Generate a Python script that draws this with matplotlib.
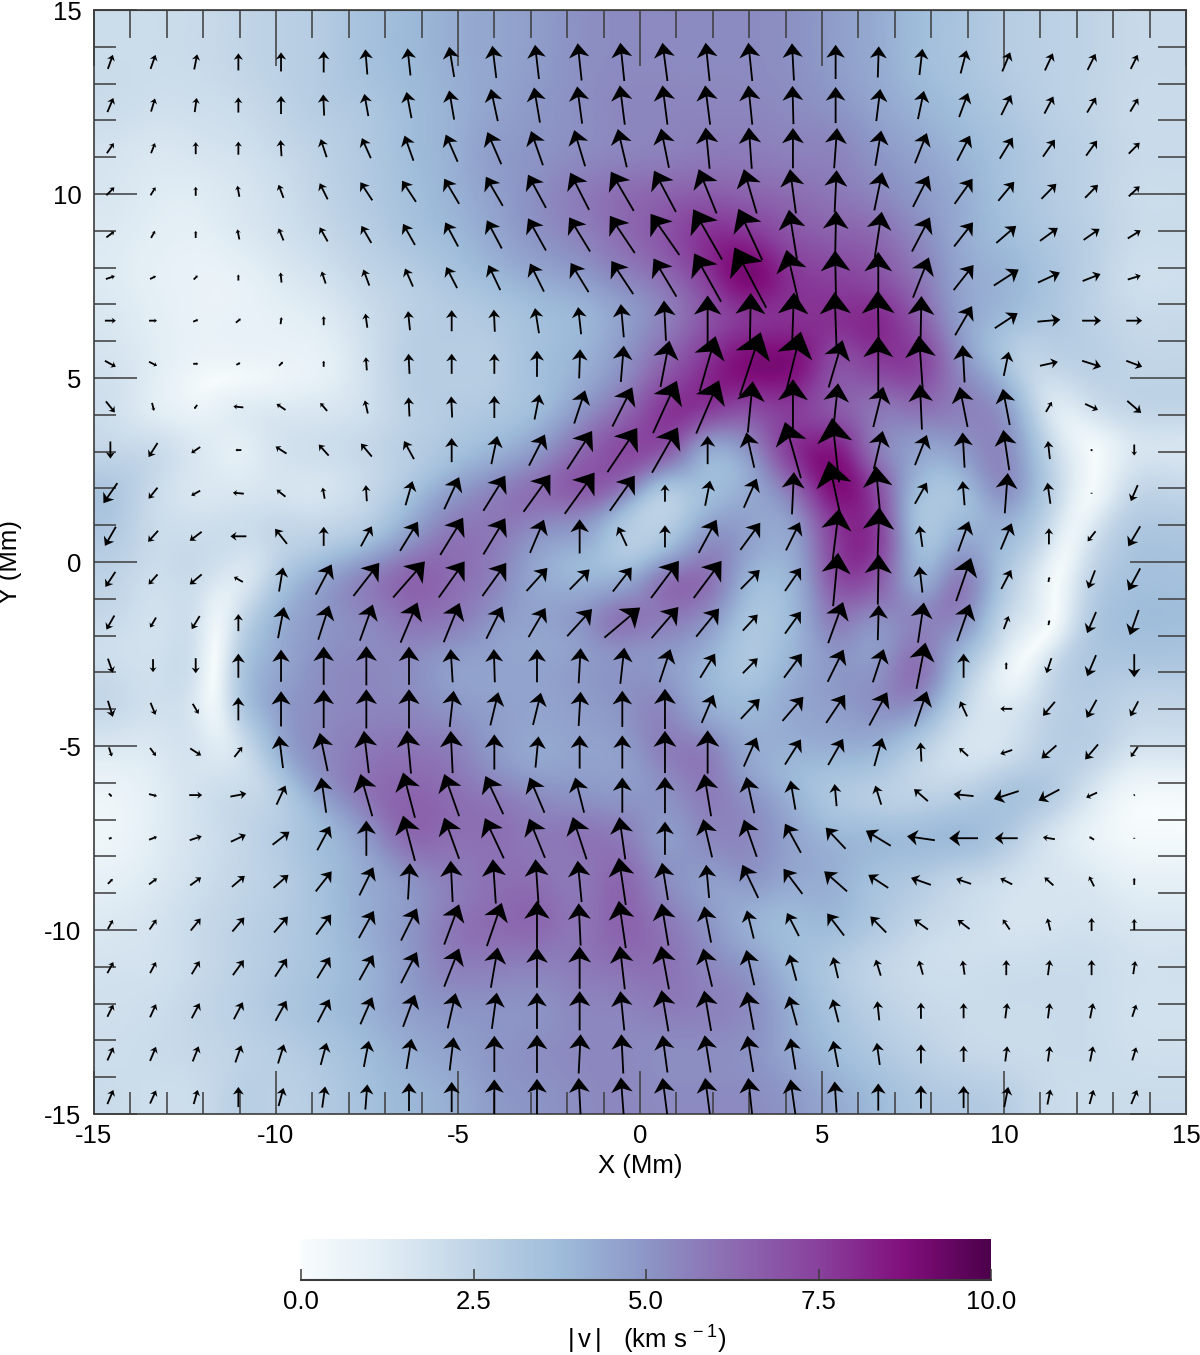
import numpy as np
import matplotlib
matplotlib.use("Agg")
import matplotlib.pyplot as plt
import matplotlib.tri as mtri
from matplotlib.ticker import MultipleLocator, NullFormatter

plt.rcParams["font.family"] = ["Liberation Sans", "DejaVu Sans"]
plt.rcParams["mathtext.default"] = "regular"
plt.rcParams["axes.unicode_minus"] = False

W, H = 1200, 1355
AXIS_COLOR = "#3c3c3c"
FONT_SIZE = 18.5

# grid of the arrows (Mm), rows run from the top of the plot downwards
x_nodes = -14.55 + 1.172 * np.arange(25)
y_nodes = 13.59 - 1.172 * np.arange(25)

# arrow components, in pixels of arrow length
u_read = np.array([
    [5, 5, 3, 0, 0, 0, -2, -3, -5, -4, -4, -4, -4, -5, -4, -4, -2, 0, 1, 3, 6, 8, 8, 8, 7],
    [6, 4, 2, 0, 0, -1, -4, -5, -5, -7, -6, -5, -5, -5, -5, -4, -1, 0, 4, 6, 9, 10, 9, 9, 8],
    [7, 4, 0, 0, -1, -6, -9, -9, -12, -14, -12, -11, -9, -8, -4, -3, 0, 3, 6, 12, 13, 13, 12, 11, 11],
    [8, 5, 0, -2, -5, -8, -12, -14, -15, -17, -18, -19, -23, -22, -18, -13, -6, 2, 8, 16, 18, 16, 15, 13, 11],
    [8, 4, 0, -2, -5, -8, -10, -12, -13, -15, -18, -21, -25, -29, -29, -24, -8, 1, 7, 18, 19, 20, 18, 16, 13],
    [9, 6, 4, 0, -1, -4, -6, -8, -11, -12, -14, -18, -22, -23, -27, -32, -13, -1, 0, 16, 20, 25, 22, 18, 13],
    [11, 8, 5, 5, 1, 0, -2, -2, 0, -1, -4, -3, -3, -2, 0, 1, 2, -2, -1, 1, 17, 23, 23, 19, 16],
    [11, 8, 5, 4, 4, 0, -1, -1, 0, 0, 0, 1, 3, 9, 16, 21, 16, 14, 0, -4, -2, 5, 18, 19, 16],
    [9, 2, -3, -10, -9, -7, -3, -1, -1, 0, 5, 11, 20, 24, 23, 5, 0, 5, 10, -2, -8, -7, 6, 13, 14],
    [0, -9, -9, -6, -11, -10, -11, -10, 0, 6, 16, 25, 30, 26, 0, -8, -16, -7, 9, 12, -2, -6, -2, 0, 0],
    [-14, -9, -9, -11, -9, -2, -1, 7, 15, 22, 27, 30, 25, 0, 5, 13, 2, -14, -5, 12, -2, 3, -3, 0, -7],
    [-11, -10, -12, -16, -12, 0, 11, 18, 23, 22, 14, 0, -9, 0, 18, 20, 14, 7, 2, -3, 11, 11, 0, -8, -12],
    [-10, -9, -12, -9, 4, 16, 26, 32, 26, 24, 21, 20, 19, 28, 28, 19, 16, 5, 1, -3, 15, 10, 1, -7, -12],
    [-8, -6, -8, 0, 6, 11, 13, 17, 16, 16, 17, 25, 36, 27, 23, 15, 16, 15, 1, 6, 13, 5, 1, -9, -9],
    [5, 0, 0, 0, 0, 0, 0, 0, -2, -1, 0, 2, 4, 11, 15, 15, 18, 16, 11, 9, 0, 0, -5, -9, 0],
    [5, 5, 6, 0, 0, 0, 0, 0, 4, 8, 8, 2, 0, 0, 12, 19, 21, 19, 18, 12, -7, -12, -12, -10, -8],
    [3, 6, 11, 8, -4, -8, -5, -4, -2, 0, 3, 0, 0, 0, 0, 13, 16, 15, 8, -1, -9, -12, -15, -13, -7],
    [3, 8, 13, 16, 9, -5, -12, -12, -15, -18, -15, -9, 0, 0, -7, -8, -5, -2, -6, -14, -20, -25, -21, -11, -1],
    [3, 8, 12, 15, 17, 13, 0, -12, -15, -19, -16, -14, -6, 0, -9, -13, -16, -20, -25, -28, -29, -23, -12, -5, 0],
    [5, 8, 11, 13, 15, 16, 14, 2, -2, -3, -3, -4, -7, -6, -3, -16, -19, -23, -20, -20, -15, -12, -9, -5, 0],
    [5, 7, 10, 12, 14, 15, 15, 16, 15, 15, 0, -2, -7, -7, -7, -7, -12, -17, -16, -14, -12, -7, -3, 0, 0],
    [6, 6, 8, 11, 12, 13, 14, 16, 15, 7, 0, 0, -5, -8, -9, -8, -7, -5, -5, -4, -2, 0, 2, 0, 2],
    [6, 6, 8, 9, 11, 12, 12, 12, 8, 5, 0, 0, -4, -7, -7, -7, -8, -6, -2, 0, 0, 2, 2, 3, 4],
    [6, 6, 6, 6, 6, 6, 5, 5, 4, 0, 0, 2, -2, -5, -6, -6, -5, -5, -3, 0, 0, 2, 2, 3, 4],
    [6, 6, 4, 0, 5, 3, 2, 0, 0, 0, 0, -2, -3, -5, -5, -4, -5, -2, 0, 0, 0, 4, 3, 4, 6],
], dtype=float)

v_read = np.array([
    [14, 14, 15, 17, 19, 21, 25, 27, 30, 32, 34, 37, 38, 38, 38, 38, 37, 34, 31, 26, 23, 19, 17, 16, 14],
    [14, 13, 14, 15, 18, 21, 22, 26, 29, 32, 35, 37, 39, 39, 39, 39, 38, 36, 32, 28, 24, 20, 17, 15, 13],
    [10, 10, 12, 13, 16, 18, 20, 25, 27, 32, 34, 36, 38, 39, 41, 41, 40, 40, 35, 30, 25, 21, 17, 15, 11],
    [8, 8, 9, 11, 13, 16, 18, 21, 25, 29, 33, 37, 39, 41, 44, 44, 44, 42, 38, 31, 25, 19, 15, 13, 10],
    [6, 7, 7, 10, 12, 14, 17, 21, 24, 28, 32, 34, 37, 41, 50, 51, 49, 47, 45, 34, 24, 17, 13, 11, 8],
    [3, 3, 4, 6, 10, 12, 16, 18, 21, 25, 28, 29, 33, 38, 48, 60, 55, 54, 51, 40, 25, 16, 10, 7, 4],
    [0, 0, 2, 4, 7, 9, 14, 19, 21, 22, 25, 27, 33, 40, 50, 55, 56, 57, 60, 49, 29, 15, 2, 0, 0],
    [-6, -4, 0, 2, 4, 6, 13, 20, 20, 20, 26, 29, 36, 46, 55, 63, 64, 47, 55, 56, 37, 24, 4, -6, -6],
    [-11, -8, -4, 1, 6, 8, 13, 19, 21, 22, 25, 33, 39, 52, 53, 51, 55, 47, 40, 45, 40, 36, 10, -6, -12],
    [-17, -14, -6, 0, 7, 11, 13, 18, 24, 28, 31, 38, 44, 45, 28, 35, 56, 64, 38, 30, 35, 40, 18, 2, -11],
    [-20, -11, -5, 1, 7, 11, 16, 24, 32, 35, 37, 41, 35, 17, 25, 29, 42, 64, 54, 21, 24, 40, 21, 1, -16],
    [-19, -11, -9, 0, 15, 19, 20, 29, 37, 36, 33, 34, 19, 22, 33, 27, 28, 55, 58, 21, 30, 26, 16, -10, -20],
    [-15, -10, -10, 5, 24, 30, 33, 36, 36, 33, 23, 20, 24, 37, 37, 19, 23, 53, 50, 26, 43, 19, 5, -18, -22],
    [-14, -10, -13, 17, 31, 34, 36, 40, 39, 32, 29, 27, 30, 31, 28, 16, 22, 41, 35, 40, 37, 13, 5, -21, -25],
    [-14, -13, -15, 24, 32, 38, 39, 38, 33, 33, 33, 35, 36, 33, 24, 15, 24, 32, 33, 46, 24, 7, -15, -21, -23],
    [-16, -12, -10, 23, 35, 38, 39, 39, 36, 33, 32, 34, 36, 40, 28, 20, 24, 28, 33, 35, 15, 0, -14, -18, -15],
    [-9, -8, -7, 10, 32, 38, 42, 43, 42, 35, 31, 33, 33, 42, 43, 29, 25, 26, 28, 19, 8, -4, -13, -15, -10],
    [-3, -2, 0, 3, 19, 35, 42, 45, 42, 38, 35, 35, 35, 36, 42, 36, 29, 22, 19, 12, 2, -8, -11, -5, -1],
    [1, 3, 4, 7, 13, 24, 35, 45, 41, 40, 39, 42, 42, 33, 38, 37, 29, 21, 15, 4, 0, 0, 2, 3, 1],
    [5, 6, 8, 11, 13, 20, 28, 36, 41, 44, 44, 41, 47, 37, 33, 33, 25, 20, 13, 7, 5, 6, 8, 10, 7],
    [9, 10, 12, 14, 16, 20, 27, 32, 40, 43, 47, 42, 47, 42, 36, 28, 23, 22, 16, 10, 9, 10, 12, 13, 11],
    [11, 11, 13, 15, 18, 21, 25, 31, 38, 40, 40, 42, 43, 43, 38, 35, 26, 21, 16, 14, 14, 15, 15, 15, 13],
    [12, 13, 15, 17, 20, 23, 27, 32, 35, 36, 36, 39, 39, 41, 40, 38, 29, 23, 19, 16, 15, 15, 15, 15, 12],
    [13, 14, 15, 17, 19, 22, 26, 30, 33, 36, 38, 39, 39, 37, 37, 36, 31, 26, 22, 19, 16, 15, 15, 15, 13],
    [14, 13, 14, 20, 18, 21, 25, 28, 30, 35, 36, 38, 39, 38, 38, 38, 35, 31, 27, 23, 22, 20, 15, 14, 14],
], dtype=float)

PX_PER_KMS = 7.2
PX_PER_MM = 36.6

colorbar_ticks = [0.0, 2.5, 5.0, 7.5, 10.0]


def px_axes(fig, left, top, right, bottom):
    return fig.add_axes([left / W, 1 - bottom / H, (right - left) / W, (bottom - top) / H])


def blur(field, sigma_px):
    # the readings are a bit noisy, the reference field is much smoother
    radius = int(3 * sigma_px)
    kernel = np.exp(-0.5 * (np.arange(-radius, radius + 1) / sigma_px) ** 2)
    kernel /= kernel.sum()
    padded = np.pad(field, radius, mode="edge")
    for axis in (0, 1):
        padded = np.apply_along_axis(lambda s: np.convolve(s, kernel, mode="same"), axis, padded)
    return padded[radius:-radius, radius:-radius]


def speed_field(n=500):
    # smooth the components between the arrow nodes, then take the magnitude,
    # so the pale arcs show up where a component changes sign
    xs = np.concatenate([[x_nodes[0] - 1.172], x_nodes, x_nodes[-1] + 1.172 * np.arange(1, 3)])
    ys = np.concatenate([y_nodes[-1] + 1.172 * np.arange(-1, 0), y_nodes[::-1], y_nodes[0] + 1.172 * np.arange(1, 3)])
    gx, gy = np.meshgrid(xs, ys)
    tri = mtri.Triangulation(gx.ravel(), gy.ravel())
    fx, fy = np.meshgrid(np.linspace(-15, 15, n), np.linspace(-15, 15, n))
    parts = []
    for table in (u_read, v_read):
        padded = np.pad(table[::-1], ((1, 2), (1, 2)), mode="edge")
        interp = mtri.CubicTriInterpolator(tri, padded.ravel(), kind="geom")
        parts.append(blur(np.ma.filled(interp(fx, fy), 0.0), 6.0))
    return np.hypot(parts[0], parts[1]) / PX_PER_KMS


def draw_arrows(ax):
    for j, y in enumerate(y_nodes):
        for i, x in enumerate(x_nodes):
            dx = u_read[j, i] / PX_PER_MM
            dy = v_read[j, i] / PX_PER_MM
            size = np.hypot(dx, dy)
            if size == 0:
                continue
            ax.arrow(x - dx / 2, y - dy / 2, dx, dy, width=0.05,
                     head_width=max(0.55 * size, 0.1), head_length=0.38 * size,
                     overhang=0.25, length_includes_head=True,
                     color="black", linewidth=0, zorder=3)


fig = plt.figure(figsize=(W / 100, H / 100), dpi=100)
ax = px_axes(fig, 94, 10, 1186, 1114)

im = ax.imshow(speed_field(), origin="lower", extent=(-15, 15, -15, 15),
               cmap="BuPu", vmin=0, vmax=10, aspect="auto", interpolation="bilinear")
draw_arrows(ax)

ax.set_xlim(-15, 15)
ax.set_ylim(-15, 15)
for axis in (ax.xaxis, ax.yaxis):
    axis.set_major_locator(MultipleLocator(5))
    axis.set_minor_locator(MultipleLocator(1))
ax.tick_params(axis="x", which="major", direction="in", length=31, width=1.1, color=AXIS_COLOR,
               labelsize=FONT_SIZE, pad=7)
ax.tick_params(axis="y", which="major", direction="in", length=31, width=1.1, color=AXIS_COLOR,
               labelsize=FONT_SIZE, pad=9)
ax.tick_params(which="minor", direction="in", length=15.5, width=1.1, color=AXIS_COLOR)

# the top and right ticks are longer than the bottom and left ones
top = ax.secondary_xaxis("top")
right = ax.secondary_yaxis("right")
for sec, name in ((top, "x"), (right, "y")):
    axis = sec.xaxis if name == "x" else sec.yaxis
    axis.set_major_locator(MultipleLocator(5))
    axis.set_minor_locator(MultipleLocator(1))
    axis.set_major_formatter(NullFormatter())
    sec.tick_params(axis=name, which="major", direction="in", length=40, width=1.1, color=AXIS_COLOR)
    sec.tick_params(axis=name, which="minor", direction="in", length=20, width=1.1, color=AXIS_COLOR)
    for spine in sec.spines.values():
        spine.set_color(AXIS_COLOR)
for spine in ax.spines.values():
    spine.set_color(AXIS_COLOR)
    spine.set_linewidth(1.2)

fig.text(640 / W, 1 - 1166 / H, "X (Mm)", ha="center", va="center", fontsize=FONT_SIZE)
fig.text(10 / W, 1 - 562 / H, "Y (Mm)", ha="center", va="center", rotation=90, fontsize=FONT_SIZE)

cax = px_axes(fig, 301, 1239, 991, 1280)
cbar = fig.colorbar(im, cax=cax, orientation="horizontal")
cbar.outline.set_visible(False)
cbar.set_ticks(colorbar_ticks, labels=[f"{t:.1f}" for t in colorbar_ticks])
cax.tick_params(axis="x", direction="in", length=8, width=1.1, color=AXIS_COLOR,
                labelsize=FONT_SIZE, pad=7)
cax.spines["bottom"].set_visible(True)
cax.spines["bottom"].set_color(AXIS_COLOR)
cax.spines["bottom"].set_linewidth(1.5)
fig.text(647 / W, 1 - 1340 / H, r"$|\,$v$\,|$   (km s$^{\,-1}$)", ha="center", va="center", fontsize=FONT_SIZE)

fig.savefig("out.png", dpi=100)
